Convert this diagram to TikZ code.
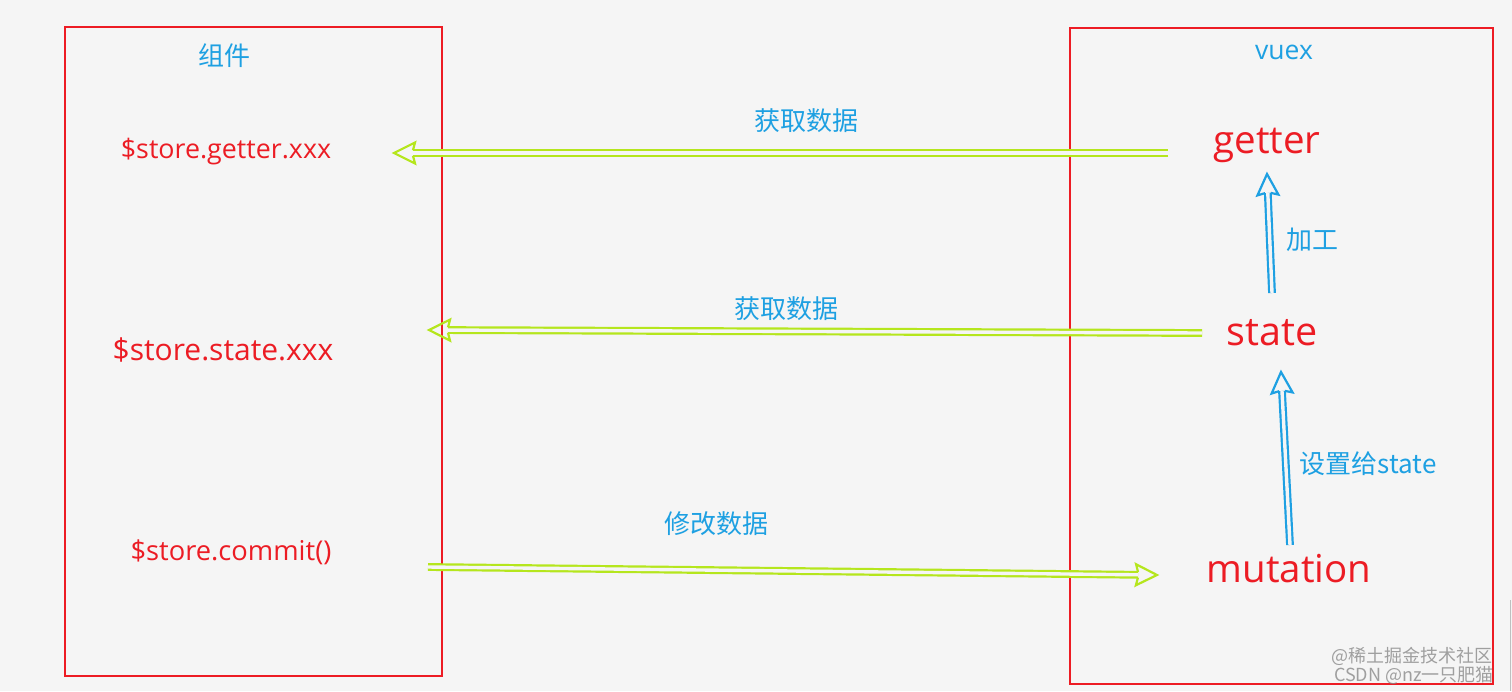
\documentclass[tikz,border=0pt]{standalone}
\usepackage{fontspec}
\setmainfont{Open Sans}
\newfontfamily\cjk{Noto Sans CJK SC}
\usetikzlibrary{decorations.markings}
\definecolor{bg}{HTML}{F5F5F5}
\definecolor{boxred}{HTML}{ED1C24}
\definecolor{txtred}{HTML}{EC1C24}
\definecolor{grn}{HTML}{B5E61D}
\definecolor{blu}{HTML}{1EA0E2}
\definecolor{wm}{HTML}{8A8A8A}
\begin{document}
\begin{tikzpicture}[x=1pt,y=-1pt,
  frame/.style={draw=boxred, line width=1.8pt},
  lbl/.style={text=blu, inner sep=0pt, font=\cjk\fontsize{26}{28}\selectfont},
  code/.style={text=txtred, inner sep=0pt, anchor=base},
  shaft/.style={draw=#1, line width=2.2pt, double=bg, double distance=3.4pt, shorten >=19pt},
  head/.style={postaction={decorate}, decoration={markings,
      mark=at position 1 with {\draw[#1, line width=2.2pt, line join=miter, miter limit=4]
        (-19,2.8) -- (-21,10.5) -- (0,0) -- (-21,-10.5) -- (-19,-2.8);}}},
  wmark/.style={text=wm, inner sep=0pt, font=\cjk\fontsize{18}{20}\selectfont}]
\fill[bg] (0,0) rectangle (1512,691);
\useasboundingbox (0,0) rectangle (1512,691);
% frames
\draw[frame] (65,27) rectangle (442,676);
\draw[frame] (1070,28) rectangle (1493,684);
\draw[draw=black!25, line width=1pt] (1510,600) -- (1510,691);
% titles
\node[lbl] (zujian) at (224,56) {组件};
\node[text=blu, inner sep=0pt, anchor=base, font=\fontsize{26.5}{28}\selectfont] (vuex) at (1284,59) {vuex};
% component texts
\node[code, font=\fontsize{26.8}{28}\selectfont] (sgetter) at (226,158) {\$store.getter.xxx};
\node[code, font=\fontsize{30}{32}\selectfont] (sstate) at (223,360) {\$store.state.xxx};
\node[code, font=\fontsize{27.3}{29}\selectfont] (scommit) at (231,560) {\$store.commit()};
% vuex texts
\node[code, font=\fontsize{38.5}{40}\selectfont] (getter) at (1267,153) {getter};
\node[code, font=\fontsize{39.5}{41}\selectfont] (state) at (1272,345) {state};
\node[code, font=\fontsize{38.5}{40}\selectfont] (mutation) at (1289,582) {mutation};
% labels
\node[lbl] (l1) at (806,121) {获取数据};
\node[lbl] (l2) at (786,309) {获取数据};
\node[lbl] (l3) at (716,524) {修改数据};
\node[lbl] (l4) at (1312,240) {加工};
\node[lbl] (l5) at (1368,464) {设置给state};
% arrow end points
\coordinate (a1s) at (1168,153);
\coordinate (a1e) at (394,153);
\coordinate (a2s) at (1202,333);
\coordinate (a2e) at (429,330);
\coordinate (a3s) at (428,567);
\coordinate (a3e) at (1157,575);
\coordinate (b1s) at (1272,293);
\coordinate (b1e) at (1267,174);
\coordinate (b2s) at (1290,545);
\coordinate (b2e) at (1281,372);
\draw[shaft=grn] (a1s) -- (a1e);
\path[head=grn] (a1s) -- (a1e);
\draw[shaft=grn] (a2s) -- (a2e);
\path[head=grn] (a2s) -- (a2e);
\draw[shaft=grn] (a3s) -- (a3e);
\path[head=grn] (a3s) -- (a3e);
\draw[shaft=blu] (b1s) -- (b1e);
\path[head=blu] (b1s) -- (b1e);
\draw[shaft=blu] (b2s) -- (b2e);
\path[head=blu] (b2s) -- (b2e);
% watermark
\node[wmark, opacity=0.8] (wm1) at (1412,656) {@稀土掘金技术社区};
\node[wmark, opacity=0.8] (wm2) at (1414,675) {CSDN @nz一只肥猫};
\end{tikzpicture}
\end{document}
